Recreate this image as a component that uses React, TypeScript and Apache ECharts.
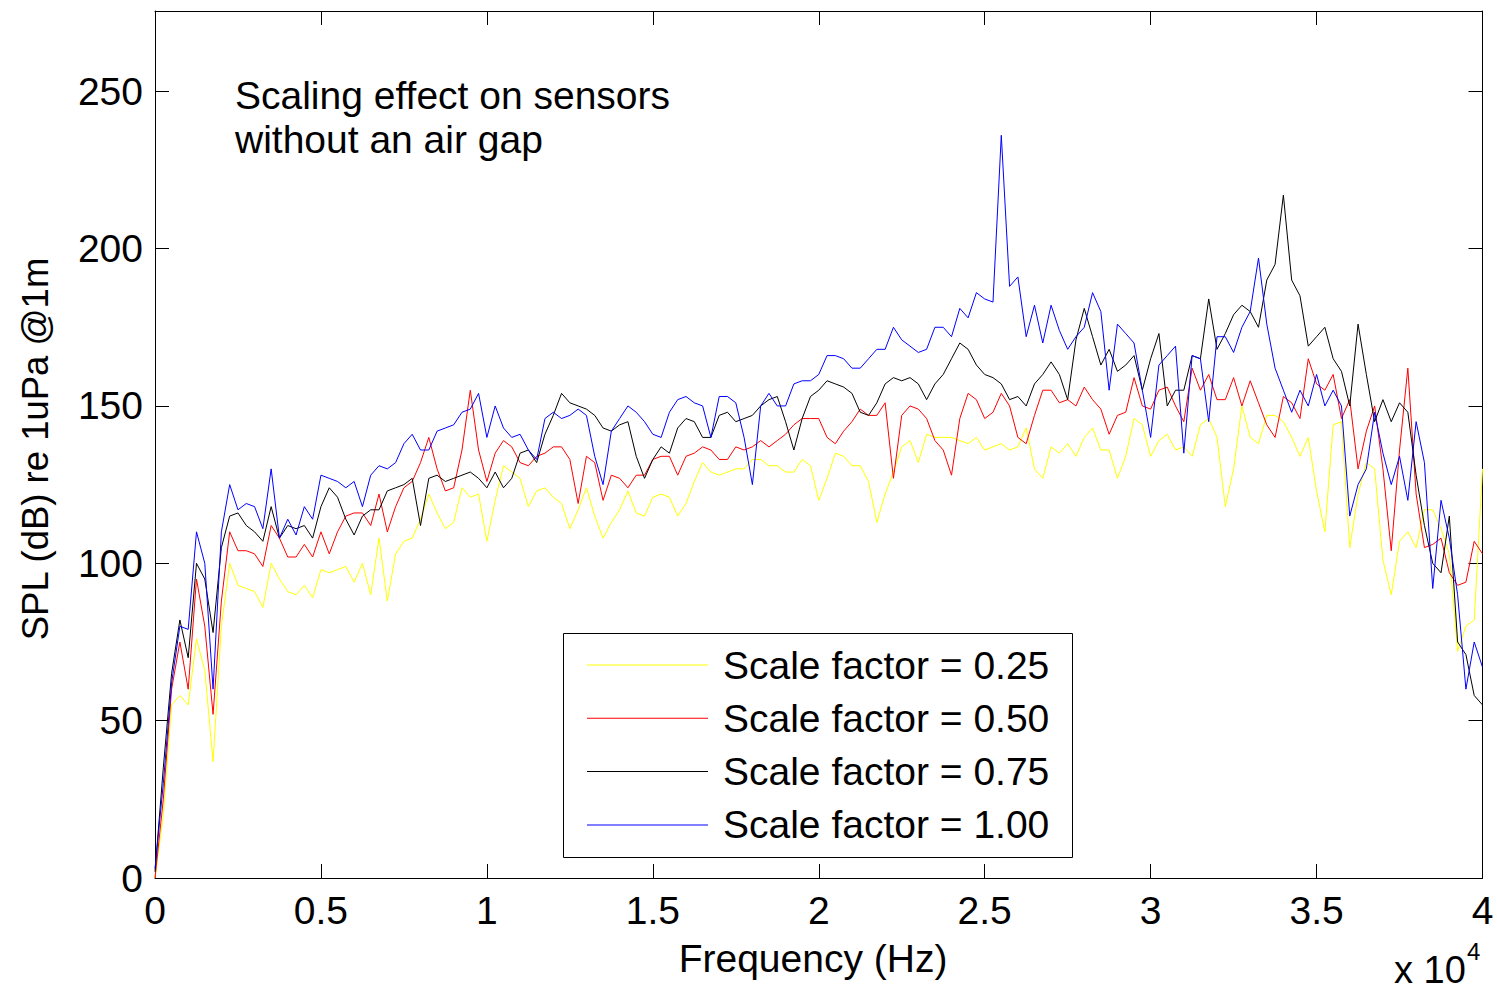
import React, { useEffect, useRef } from "react";
import * as echarts from "echarts";

// Frequency grid (Hz)
const freqHz = [
  0, 250, 500, 750, 1000, 1250, 1500, 1750, 2000, 2250,
  2500, 2750, 3000, 3250, 3500, 3750, 4000, 4250, 4500, 4750,
  5000, 5250, 5500, 5750, 6000, 6250, 6500, 6750, 7000, 7250,
  7500, 7750, 8000, 8250, 8500, 8750, 9000, 9250, 9500, 9750,
  10000, 10250, 10500, 10750, 11000, 11250, 11500, 11750, 12000, 12250,
  12500, 12750, 13000, 13250, 13500, 13750, 14000, 14250, 14500, 14750,
  15000, 15250, 15500, 15750, 16000, 16250, 16500, 16750, 17000, 17250,
  17500, 17750, 18000, 18250, 18500, 18750, 19000, 19250, 19500, 19750,
  20000, 20250, 20500, 20750, 21000, 21250, 21500, 21750, 22000, 22250,
  22500, 22750, 23000, 23250, 23500, 23750, 24000, 24250, 24500, 24750,
  25000, 25250, 25500, 25750, 26000, 26250, 26500, 26750, 27000, 27250,
  27500, 27750, 28000, 28250, 28500, 28750, 29000, 29250, 29500, 29750,
  30000, 30250, 30500, 30750, 31000, 31250, 31500, 31750, 32000, 32250,
  32500, 32750, 33000, 33250, 33500, 33750, 34000, 34250, 34500, 34750,
  35000, 35250, 35500, 35750, 36000, 36250, 36500, 36750, 37000, 37250,
  37500, 37750, 38000, 38250, 38500, 38750, 39000, 39250, 39500, 39750,
  40000,
];

// SPL (dB re 1uPa @1m), scale factor 0.25
const spl025 = [
  0, 20, 55, 58, 55, 76, 66, 37, 80, 100,
  93, 92, 91, 86, 100, 95, 91, 90, 93, 89,
  98, 97, 98, 99, 94, 100, 90, 108, 88, 103,
  107, 108, 114, 122, 116, 111, 113, 124, 121, 122,
  107, 120, 131, 129, 127, 118, 123, 124, 121, 119,
  111, 117, 124, 115, 108, 113, 117, 123, 116, 115,
  121, 122, 121, 115, 119, 126, 132, 129, 128, 129,
  130, 130, 133, 133, 131, 131, 129, 129, 133, 131,
  120, 127, 135, 134, 131, 131, 126, 113, 122, 129,
  137, 139, 132, 141, 140, 140, 140, 139, 138, 140,
  136, 137, 138, 136, 137, 143, 130, 127, 137, 135,
  138, 134, 140, 143, 136, 136, 127, 134, 146, 144,
  134, 139, 141, 136, 137, 134, 144, 146, 140, 118,
  130, 150, 140, 138, 147, 147, 145, 140, 134, 140,
  123, 110, 144, 145, 105, 122, 132, 130, 101, 90,
  107, 110, 105, 117, 117, 111, 103, 72, 80, 82,
  130,
];

// scale factor 0.50
const spl050 = [
  0, 25, 60, 75, 60, 95, 80, 52, 88, 110,
  104, 104, 103, 99, 112, 108, 102, 102, 106, 102,
  110, 103, 110, 115, 116, 116, 112, 122, 110, 118,
  124, 126, 132, 140, 130, 123, 124, 136, 155, 136,
  126, 135, 139, 137, 132, 131, 134, 135, 137, 137,
  133, 119, 134, 132, 120, 128, 127, 124, 128, 128,
  133, 134, 134, 128, 134, 135, 137, 136, 133, 133,
  137, 136, 137, 139, 137, 139, 141, 144, 146, 146,
  146, 140, 138, 142, 145, 149, 147, 147, 151, 127,
  147, 150, 149, 146, 139, 136, 128, 146, 154, 152,
  146, 148, 154, 150, 140, 138, 147, 155, 155, 151,
  152, 150, 156, 152, 149, 141, 147, 148, 159, 150,
  149, 155, 156, 150, 145, 162, 155, 160, 152, 152,
  159, 150, 158, 151, 144, 140, 153, 151, 146, 165,
  157, 155, 160, 146, 152, 130, 142, 150, 130, 104,
  136, 162, 122, 105, 106, 108, 97, 93, 94, 107,
  103,
];

// scale factor 0.75
const spl075 = [
  2, 35, 65, 82, 70, 100, 95, 78, 105, 115,
  116, 112, 110, 107, 118, 108, 112, 111, 112, 108,
  118, 124, 121, 114, 109, 115, 117, 117, 123, 124,
  125, 127, 112, 127, 128, 126, 127, 128, 129, 127,
  124, 129, 124, 127, 135, 136, 132, 141, 147, 154,
  151, 150, 149, 147, 143, 142, 144, 145, 134, 127,
  133, 137, 135, 143, 146, 145, 140, 140, 147, 148,
  145, 146, 147, 150, 152, 153, 145, 136, 146, 153,
  155, 158, 157, 156, 154, 148, 147, 151, 157, 159,
  158, 159, 157, 152, 157, 160, 165, 170, 168, 163,
  160, 159, 157, 152, 153, 150, 157, 160, 164, 160,
  152, 171, 181, 172, 163, 168, 161, 163, 166, 155,
  165, 173, 150, 155, 155, 166, 165, 184, 168, 173,
  179, 182, 180, 175, 190, 195, 217, 190, 185, 169,
  172, 175, 165, 161, 150, 176, 160, 145, 152, 145,
  151, 148, 128, 112, 100, 97, 115, 75, 71, 58,
  55,
];

// scale factor 1.00
const spl100 = [
  3, 30, 62, 80, 79, 110, 100, 60, 110, 125,
  117, 119, 118, 111, 130, 108, 114, 109, 118, 114,
  128, 127, 126, 124, 126, 118, 128, 131, 130, 132,
  138, 141, 136, 136, 142, 143, 144, 148, 149, 154,
  140, 150, 143, 140, 141, 136, 133, 146, 148, 146,
  147, 149, 147, 134, 125, 142, 146, 150, 148, 145,
  141, 140, 148, 152, 153, 151, 150, 140, 153, 153,
  151, 140, 125, 150, 154, 150, 150, 157, 158, 158,
  160, 166, 166, 165, 162, 162, 165, 168, 168, 175,
  171, 169, 167, 168, 175, 175, 172, 181, 178, 186,
  184, 183, 236, 188, 191, 172, 182, 170, 182, 174,
  168, 172, 175, 186, 180, 155, 176, 173, 170, 155,
  140, 163, 166, 169, 135, 166, 165, 145, 172, 172,
  167, 175, 180, 197, 176, 162, 155, 148, 155, 150,
  160, 150, 155, 150, 115, 125, 130, 148, 135, 125,
  134, 120, 145, 132, 92, 120, 108, 90, 60, 75,
  67,
];

const seriesNames = [
  "Scale factor = 0.25",
  "Scale factor = 0.50",
  "Scale factor = 0.75",
  "Scale factor = 1.00",
];
const seriesValues = [spl025, spl050, spl075, spl100];
const seriesColors = ["#ffff00", "#ff0000", "#000000", "#0000ff"];

const annotationText = "Scaling effect on sensors\nwithout an air gap";
const xAxisTitle = "Frequency (Hz)";
const yAxisTitle = "SPL (dB) re 1uPa @1m";

const FONT = "'Liberation Sans', Arial, Helvetica, sans-serif";
const FS = 39;

export default function App() {
  const ref = useRef<HTMLDivElement>(null);

  useEffect(() => {
    if (!ref.current) return;
    const chart = echarts.init(ref.current, null, { renderer: "svg" });

    const axisLine = { show: true, onZero: false, lineStyle: { color: "#000", width: 1 } };
    const tick = { show: true, inside: true, length: 14, lineStyle: { color: "#000", width: 1 } };

    const option: any = {
      animation: false,
      backgroundColor: "#ffffff",
      textStyle: { fontFamily: FONT },
      grid: { left: 155, top: 11, right: 14.5, bottom: 114, containLabel: false },
      xAxis: [
        {
          type: "value",
          position: "bottom",
          min: 0,
          max: 40000,
          interval: 5000,
          axisLine,
          axisTick: tick,
          axisLabel: {
            fontSize: FS,
            color: "#000",
            margin: 13,
            fontFamily: FONT,
            formatter: (v: number) => String(v / 10000),
          },
          splitLine: { show: false },
        },
        {
          type: "value",
          position: "top",
          min: 0,
          max: 40000,
          interval: 5000,
          axisLine,
          axisTick: tick,
          axisLabel: { show: false },
          splitLine: { show: false },
        },
      ],
      yAxis: [
        {
          type: "value",
          position: "left",
          min: 0,
          max: 275.5,
          interval: 50,
          axisLine,
          axisTick: tick,
          axisLabel: {
            fontSize: FS,
            color: "#000",
            margin: 12,
            fontFamily: FONT,
            formatter: (v: number) => (v % 50 === 0 ? String(v) : ""),
          },
          splitLine: { show: false },
        },
        {
          type: "value",
          position: "right",
          min: 0,
          max: 275.5,
          interval: 50,
          axisLine,
          axisTick: tick,
          axisLabel: { show: false },
          splitLine: { show: false },
        },
      ],
      legend: {
        show: true,
        orient: "vertical",
        left: 587,
        top: 645,
        padding: 0,
        itemGap: 13.3,
        itemWidth: 121,
        itemHeight: 1,
        icon: "rect",
        selectedMode: false,
        z: 10,
        data: seriesNames,
        textStyle: {
          fontSize: FS,
          color: "#000",
          lineHeight: 40,
          padding: [0, 0, 0, 10],
          fontFamily: FONT,
        },
      },
      graphic: [
        {
          type: "rect",
          z: 5,
          shape: { x: 563.5, y: 633.5, width: 509, height: 224 },
          style: { fill: "#ffffff", stroke: "#000000", lineWidth: 1 },
        },
        {
          type: "text",
          left: 235,
          top: 73,
          z: 6,
          style: {
            text: annotationText,
            fontSize: FS,
            lineHeight: 44,
            fill: "#000",
            fontFamily: FONT,
          },
        },
        {
          type: "text",
          x: 813,
          y: 958,
          z: 6,
          style: {
            text: xAxisTitle,
            fontSize: FS,
            fill: "#000",
            fontFamily: FONT,
            align: "center",
            verticalAlign: "middle",
          },
        },
        {
          type: "text",
          x: 35,
          y: 449,
          rotation: Math.PI / 2,
          z: 6,
          style: {
            text: yAxisTitle,
            fontSize: 36.5,
            fill: "#000",
            fontFamily: FONT,
            align: "center",
            verticalAlign: "middle",
          },
        },
        {
          type: "text",
          x: 1394,
          y: 970,
          z: 6,
          style: {
            text: "x 10",
            fontSize: 38,
            fill: "#000",
            fontFamily: FONT,
            align: "left",
            verticalAlign: "middle",
          },
        },
        {
          type: "text",
          x: 1467,
          y: 951,
          z: 6,
          style: {
            text: "4",
            fontSize: 24,
            fill: "#000",
            fontFamily: FONT,
            align: "left",
            verticalAlign: "middle",
          },
        },
      ],
      series: seriesNames.map((name, k) => ({
        name,
        type: "line",
        xAxisIndex: 0,
        yAxisIndex: 0,
        symbol: "none",
        showSymbol: false,
        color: seriesColors[k],
        itemStyle: { color: seriesColors[k] },
        lineStyle: { color: seriesColors[k], width: 1 },
        data: freqHz.map((f, i) => [f, seriesValues[k][i]]),
        z: 2 + k * 0.1,
      })),
    };

    chart.setOption(option);
    return () => chart.dispose();
  }, []);

  return (
    <div
      ref={ref}
      style={{ position: "fixed", left: 0, top: 0, width: 1497, height: 992, background: "#fff" }}
    />
  );
}
